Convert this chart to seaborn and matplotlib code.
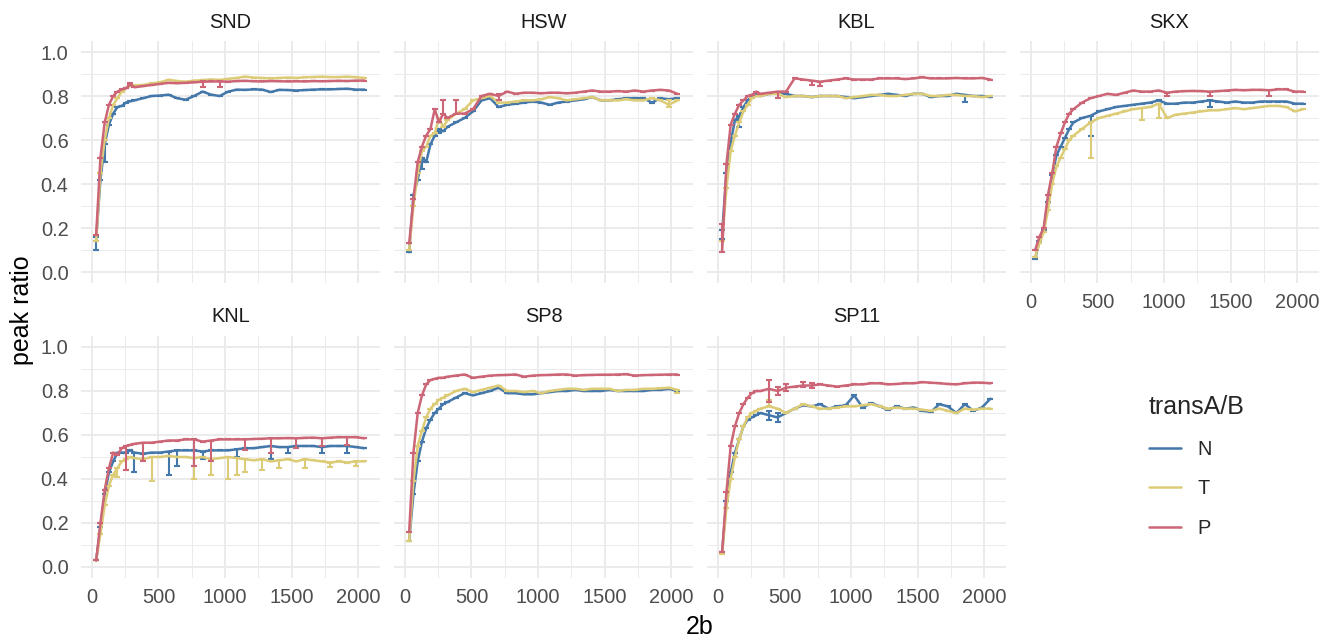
import numpy as np
import pandas as pd
import matplotlib
matplotlib.use('Agg')
import matplotlib.pyplot as plt
from matplotlib.lines import Line2D
from matplotlib.ticker import MultipleLocator
import seaborn as sns

# --- data ---
x_2b = [32, 64, 96, 128, 160, 192, 224, 256, 288,
        320, 384, 448, 512, 576, 640, 704, 768, 832, 896,
        960, 1024, 1088, 1152, 1216, 1280, 1344, 1408, 1472, 1536,
        1600, 1664, 1728, 1792, 1856, 1920, 1984, 2048]
machines = ['SND', 'HSW', 'KBL', 'SKX', 'KNL', 'SP8', 'SP11']
trans = ['N', 'T', 'P']

snd_n = [.15, .42, .58, .67, .72, .75, .755, .77, .776,
         .78, .79, .80, .802, .806, .79, .783, .80, .82, .806,
         .80, .82, .829, .828, .83, .829, .818, .828, .827, .825,
         .827, .829, .83, .83, .832, .833, .829, .829]
snd_t = [.14, .45, .60, .70, .76, .79, .82, .835, .845,
         .848, .85, .857, .862, .874, .868, .865, .87, .872, .875,
         .873, .878, .882, .888, .884, .882, .88, .882, .884, .882,
         .885, .886, .888, .886, .886, .888, .885, .882]
snd_p = [.17, .52, .68, .76, .80, .82, .83, .835, .852,
         .84, .845, .85, .855, .86, .858, .86, .862, .865, .866,
         .866, .865, .868, .869, .867, .866, .868, .867, .866, .867,
         .866, .868, .867, .868, .869, .868, .87, .87]

hsw_n = [.09, .35, .42, .52, .50, .58, .62, .65, .64,
         .66, .68, .70, .73, .78, .79, .75, .76, .765, .77,
         .775, .77, .76, .77, .775, .78, .785, .795, .78, .78,
         .785, .79, .79, .79, .77, .79, .785, .79]
hsw_t = [.10, .30, .45, .55, .57, .62, .63, .70, .66,
         .69, .72, .74, .78, .79, .80, .77, .77, .775, .78,
         .78, .785, .795, .79, .78, .785, .79, .795, .78, .78,
         .78, .785, .78, .78, .79, .78, .76, .78]
hsw_p = [.13, .33, .50, .57, .62, .65, .74, .68, .72,
         .70, .72, .72, .74, .80, .81, .80, .82, .81, .815,
         .815, .812, .815, .815, .812, .815, .82, .825, .82, .82,
         .822, .82, .825, .82, .825, .828, .825, .81]

kbl_n = [.18, .45, .59, .69, .71, .75, .78, .80, .81,
         .80, .81, .815, .81, .80, .80, .795, .80, .80, .80,
         .795, .79, .795, .80, .805, .81, .805, .80, .81, .81,
         .795, .80, .80, .81, .805, .80, .80, .795]
kbl_t = [.14, .38, .55, .62, .68, .73, .76, .79, .80,
         .80, .81, .81, .795, .80, .80, .795, .80, .80, .80,
         .79, .795, .80, .805, .805, .80, .80, .805, .81, .81,
         .80, .80, .805, .805, .80, .80, .795, .80]
kbl_p = [.10, .49, .67, .72, .76, .78, .80, .805, .82,
         .81, .815, .82, .82, .88, .875, .87, .865, .87, .875,
         .88, .875, .875, .875, .88, .88, .88, .877, .88, .885,
         .88, .88, .88, .882, .88, .88, .882, .875]

skx_n = [.06, .14, .19, .32, .44, .53, .57, .61, .65,
         .68, .70, .71, .73, .74, .75, .755, .76, .765, .77,
         .78, .765, .765, .77, .77, .775, .78, .775, .77, .775,
         .77, .77, .775, .775, .775, .775, .765, .765]
skx_t = [.07, .13, .18, .28, .40, .48, .52, .56, .60,
         .62, .65, .68, .70, .71, .72, .73, .74, .745, .75,
         .765, .70, .715, .72, .725, .73, .735, .735, .74, .745,
         .74, .745, .75, .755, .755, .75, .73, .74]
skx_p = [.10, .16, .20, .35, .45, .57, .63, .68, .72,
         .74, .77, .79, .80, .81, .805, .815, .825, .82, .82,
         .825, .815, .82, .822, .823, .822, .82, .822, .825, .828,
         .826, .828, .828, .826, .83, .83, .82, .82]

knl_n = [.03, .18, .33, .43, .48, .52, .52, .52, .53,
         .52, .515, .52, .52, .525, .53, .53, .53, .525, .53,
         .53, .53, .535, .54, .54, .545, .55, .545, .545, .55,
         .55, .55, .545, .55, .55, .55, .545, .54]
knl_t = [.03, .15, .28, .37, .42, .45, .48, .49, .50,
         .495, .49, .50, .50, .505, .50, .50, .495, .50, .49,
         .495, .50, .495, .49, .485, .49, .48, .485, .49, .48,
         .49, .485, .48, .475, .48, .475, .48, .48]
knl_p = [.03, .20, .35, .45, .52, .51, .54, .55, .555,
         .56, .565, .565, .57, .575, .575, .58, .58, .57, .575,
         .58, .58, .58, .58, .582, .583, .585, .585, .586, .585,
         .587, .588, .585, .588, .59, .59, .59, .585]

sp8_n = [.12, .33, .48, .57, .63, .67, .70, .72, .74,
         .75, .77, .79, .78, .79, .80, .815, .79, .79, .785,
         .785, .79, .795, .80, .80, .805, .80, .80, .80, .805,
         .80, .80, .80, .80, .805, .805, .81, .80]
sp8_t = [.12, .39, .55, .62, .68, .72, .74, .76, .77,
         .78, .80, .81, .795, .805, .815, .825, .80, .80, .795,
         .80, .79, .80, .805, .81, .81, .805, .81, .81, .81,
         .80, .805, .805, .81, .81, .812, .815, .805]
sp8_p = [.16, .52, .70, .78, .83, .85, .855, .86, .86,
         .865, .87, .875, .86, .865, .87, .872, .873, .875, .865,
         .87, .872, .873, .875, .875, .87, .872, .873, .874, .874,
         .875, .876, .87, .872, .873, .874, .875, .875]

sp11_n = [.07, .30, .43, .52, .58, .64, .67, .68, .69,
          .70, .69, .68, .70, .72, .735, .73, .74, .72, .73,
          .735, .78, .725, .745, .73, .715, .73, .72, .725, .71,
          .705, .74, .73, .70, .74, .71, .725, .765]
sp11_t = [.06, .27, .40, .50, .58, .64, .68, .70, .71,
          .72, .73, .72, .70, .72, .74, .73, .72, .72, .725,
          .73, .73, .735, .74, .73, .72, .725, .72, .72, .715,
          .71, .72, .71, .70, .72, .715, .72, .72]
sp11_p = [.07, .34, .55, .64, .70, .74, .77, .79, .80,
          .80, .81, .80, .815, .82, .825, .825, .83, .825, .82,
          .825, .83, .83, .835, .835, .83, .832, .835, .835, .84,
          .838, .835, .832, .83, .835, .838, .838, .835]

# error bars that stand out: (2b, ymin, ymax)
snd_err = {'N': [(32, .10, .16), (96, .50, .58)], 'T': [],
           'P': [(288, .85, .86), (832, .84, .87), (960, .84, .87)]}
hsw_err = {'N': [(128, .47, .52), (256, .63, .65)], 'T': [(1984, .75, .78)],
           'P': [(288, .72, .78), (384, .72, .78), (704, .78, .81)]}
kbl_err = {'N': [(32, .15, .19), (160, .66, .71), (1856, .775, .805)], 'T': [],
           'P': [(32, .09, .22), (448, .79, .82), (704, .85, .87), (768, .845, .865)]}
skx_err = {'N': [(448, .62, .71), (1344, .75, .78)],
           'T': [(448, .52, .68), (832, .69, .745), (960, .70, .765)],
           'P': [(1024, .80, .815), (1344, .80, .82), (1792, .80, .826)]}
knl_err = {'N': [(320, .43, .52), (576, .42, .525), (640, .46, .53), (832, .49, .525),
                 (1088, .50, .535), (1344, .49, .55), (1472, .52, .545), (1728, .52, .545),
                 (1920, .52, .55)],
           'T': [(192, .41, .45), (448, .39, .50), (768, .40, .495), (896, .42, .49),
                 (1024, .40, .50), (1088, .42, .495), (1152, .43, .49), (1280, .44, .49),
                 (1408, .45, .485), (1600, .45, .49), (1792, .455, .475), (1984, .46, .48)],
           'P': [(256, .44, .55), (384, .48, .565), (768, .46, .58), (896, .48, .575),
                 (1152, .53, .58), (1344, .52, .585), (1536, .54, .585), (1728, .55, .585),
                 (1920, .555, .59)]}
sp8_err = {'N': [], 'T': [(2048, .79, .805)], 'P': []}
sp11_err = {'N': [(384, .67, .71), (448, .66, .70)], 'T': [(384, .73, .76)],
            'P': [(384, .75, .85), (448, .78, .82), (512, .80, .83), (640, .82, .84),
                  (704, .815, .835)]}

series = {'SND': (snd_n, snd_t, snd_p), 'HSW': (hsw_n, hsw_t, hsw_p),
          'KBL': (kbl_n, kbl_t, kbl_p), 'SKX': (skx_n, skx_t, skx_p),
          'KNL': (knl_n, knl_t, knl_p), 'SP8': (sp8_n, sp8_t, sp8_p),
          'SP11': (sp11_n, sp11_t, sp11_p)}
errors = {'SND': snd_err, 'HSW': hsw_err, 'KBL': kbl_err, 'SKX': skx_err,
          'KNL': knl_err, 'SP8': sp8_err, 'SP11': sp11_err}

rows = []
for m in machines:
    for t, vals in zip(trans, series[m]):
        extra = {e[0]: (e[1], e[2]) for e in errors[m][t]}
        for xv, yv in zip(x_2b, vals):
            lo, hi = extra.get(xv, (yv, yv))
            rows.append({'machine': m, '2b': xv, 'peak ratio': yv,
                         'transA/B': t, 'ymin': min(lo, yv), 'ymax': max(hi, yv)})
df = pd.DataFrame(rows)

palette = {'N': '#4477AA', 'T': '#DDCC77', 'P': '#CC6677'}

# --- plot ---
sns.set_style('white')
plt.rcParams['font.family'] = ['Liberation Sans', 'DejaVu Sans']

W, H = 1337, 642
fig = plt.figure(figsize=(W / 100, H / 100), dpi=100)
lefts = [81, 394, 707, 1020]
tops = [41, 336]
pw, ph = 299, 242

for i, m in enumerate(machines):
    r, c = divmod(i, 4)
    ax = fig.add_axes([lefts[c] / W, 1 - (tops[r] + ph) / H, pw / W, ph / H])
    sub = df[df['machine'] == m]
    for t in trans:
        s = sub[sub['transA/B'] == t]
        sns.lineplot(data=s, x='2b', y='peak ratio', color=palette[t],
                     linewidth=1.8, ax=ax, legend=False, estimator=None)
        ax.errorbar(s['2b'], s['peak ratio'],
                    yerr=[s['peak ratio'] - s['ymin'], s['ymax'] - s['peak ratio']],
                    fmt='none', ecolor=palette[t], elinewidth=1.5,
                    capsize=2, capthick=1.5)
    ax.set_xlim(-82, 2165)
    ax.set_ylim(-0.05, 1.05)
    ax.xaxis.set_major_locator(MultipleLocator(500))
    ax.xaxis.set_minor_locator(MultipleLocator(250))
    ax.yaxis.set_major_locator(MultipleLocator(0.2))
    ax.yaxis.set_minor_locator(MultipleLocator(0.1))
    ax.yaxis.set_major_formatter(matplotlib.ticker.FormatStrFormatter('%.1f'))
    ax.grid(which='major', color='#ebebeb', linewidth=1.4)
    ax.grid(which='minor', color='#ebebeb', linewidth=0.7)
    ax.set_axisbelow(True)
    for sp in ax.spines.values():
        sp.set_visible(False)
    ax.tick_params(which='both', length=0, labelsize=14.4, labelcolor='#4d4d4d')
    ax.tick_params(axis='y', pad=9)
    ax.tick_params(axis='x', pad=7)
    ax.set_xlabel('')
    ax.set_ylabel('')
    if c != 0:
        ax.tick_params(axis='y', labelleft=False)
    if r == 0 and m != 'SKX':
        ax.tick_params(axis='x', labelbottom=False)
    ax.text(0.5, 1 + 19 / ph, m, transform=ax.transAxes, ha='center', va='center',
            fontsize=14.4, color='#1a1a1a')

fig.text(22 / W, 1 - 310 / H, 'peak ratio', rotation=90, ha='center', va='center',
         fontsize=18, color='black')
fig.text(700 / W, 1 - 627 / H, '2b', ha='center', va='center', fontsize=18, color='black')

handles = [Line2D([0], [0], color=palette[t], linewidth=1.8) for t in trans]
leg = fig.legend(handles, trans, title='transA/B', loc='upper left',
                 bbox_to_anchor=(1149 / W, 1 - 395 / H), frameon=False,
                 fontsize=14.4, title_fontsize=18, handlelength=1.6,
                 handletextpad=0.8, labelspacing=1.03, alignment='left',
                 borderaxespad=0, borderpad=0)

plt.savefig('out.png', dpi=100)
print('saved out.png')
